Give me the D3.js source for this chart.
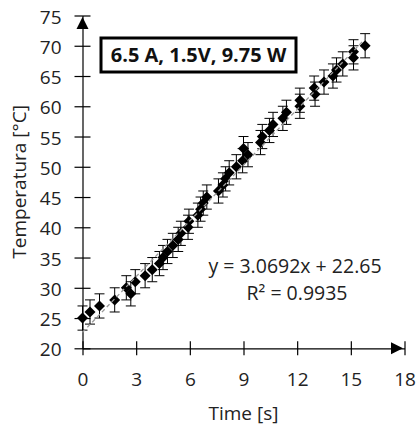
<!DOCTYPE html>
<html>
<head>
<meta charset="utf-8">
<script src="https://cdn.jsdelivr.net/npm/d3@7"></script>
<style>
  body { margin: 0; background: #fff; }
  svg text { font-family: "Open Sans", sans-serif; fill: #222; }
</style>
</head>
<body>
<div id="chart"></div>
<script>
// data: time [s] and temperature [°C]
var times = [0, 0.42, 0.95, 1.8, 2.7, 2.45, 2.95, 3.5, 3.9, 4.3,
             4.5, 4.75, 5.05, 5.35, 5.5, 5.9, 5.95, 6.45, 6.6, 6.75,
             6.95, 7.6, 7.85, 8.0, 8.2, 8.6, 8.95, 9.25, 9.0, 9.95,
             10.05, 10.45, 10.65, 11.2, 11.4, 12.15, 12.15, 13.0, 12.95, 13.5,
             14.0, 14.2, 14.55, 15.15, 15.15, 15.8];
var temps = [25, 26, 27, 28, 29, 30, 31, 32, 33, 34,
             35, 36, 37, 38, 39, 40, 41, 42, 43, 44,
             45, 46, 47, 48, 49, 50, 51, 52, 53, 54,
             55, 56, 57, 58, 59, 60, 61, 62, 63, 64,
             65, 66, 67, 68, 69, 70];
var errBar = 2;
var xTicks = [0, 3, 6, 9, 12, 15, 18];
var yTicks = [20, 25, 30, 35, 40, 45, 50, 55, 60, 65, 70, 75];
var slope = 3.0692, intercept = 22.65;
var eqText = "y = 3.0692x + 22.65";
var r2Text = "R² = 0.9935";
var boxText = "6.5 A, 1.5V, 9.75 W";

var W = 419, H = 430;
var svg = d3.select("#chart").append("svg")
  .attr("width", W).attr("height", H);

var x = d3.scaleLinear().domain([0, 18]).range([82.5, 404.5]);
var y = d3.scaleLinear().domain([20, 75]).range([348.3, 15.5]);

// axes, ticks cross the axis line
var xAxis = svg.append("g")
  .attr("transform", "translate(0," + y(20) + ")")
  .call(d3.axisBottom(x).tickValues(xTicks).tickSize(7).tickSizeOuter(0));
xAxis.selectAll(".tick line").attr("y1", -7).attr("y2", 7);
xAxis.selectAll(".tick text").attr("y", 24).attr("dy", "0.71em")
  .style("font-size", "19px");

var yAxis = svg.append("g")
  .attr("transform", "translate(" + x(0) + ",0)")
  .call(d3.axisLeft(y).tickValues(yTicks).tickSize(8).tickSizeOuter(0));
yAxis.selectAll(".tick line").attr("x1", -8).attr("x2", 8);
yAxis.selectAll(".tick text").attr("x", -21).attr("dy", "0.4em")
  .style("font-size", "19px");

svg.selectAll(".domain").attr("stroke", "#000").attr("stroke-width", 1.2);
svg.selectAll(".tick line").attr("stroke", "#000").attr("stroke-width", 1.2);
svg.selectAll(".tick text").attr("fill", "#222").style("font-family", "'Open Sans', sans-serif");

// arrow heads
var ax = x(0), ay = y(20);
svg.append("path")
  .attr("d", "M" + ax + "," + (y(75) + 1.5) + "L" + (ax - 6) + "," + (y(75) + 13.5) + "L" + (ax + 6) + "," + (y(75) + 13.5) + "Z")
  .attr("fill", "#000");
svg.append("path")
  .attr("d", "M" + (x(18) - 1.5) + "," + ay + "L" + (x(18) - 13.5) + "," + (ay - 6) + "L" + (x(18) - 13.5) + "," + (ay + 6) + "Z")
  .attr("fill", "#000");

// error bars
var pts = times.map(function(t, i) { return {t: t, T: temps[i]}; });
var eb = svg.append("g").attr("stroke", "#000").attr("stroke-width", 1);
pts.forEach(function(d) {
  var cx = x(d.t);
  eb.append("line").attr("x1", cx).attr("x2", cx)
    .attr("y1", y(d.T - errBar)).attr("y2", y(d.T + errBar));
  eb.append("line").attr("x1", cx - 5).attr("x2", cx + 5)
    .attr("y1", y(d.T - errBar)).attr("y2", y(d.T - errBar));
  eb.append("line").attr("x1", cx - 5).attr("x2", cx + 5)
    .attr("y1", y(d.T + errBar)).attr("y2", y(d.T + errBar));
});

// diamonds
svg.append("g").selectAll("path")
  .data(pts).enter().append("path")
  .attr("d", function(d) {
    var cx = x(d.t), cy = y(d.T), r = 5.5;
    return "M" + cx + "," + (cy - r) + "L" + (cx + r) + "," + cy + "L" + cx + "," + (cy + r) + "L" + (cx - r) + "," + cy + "Z";
  })
  .attr("fill", "#000");

// trend line
var tMax = d3.max(times);
svg.append("line")
  .attr("x1", x(0)).attr("y1", y(intercept))
  .attr("x2", x(tMax)).attr("y2", y(slope * tMax + intercept))
  .attr("stroke", "#9a9a9a").attr("stroke-width", 1.3)
  .attr("stroke-dasharray", "4,3");

// equation
svg.append("text").attr("x", 295).attr("y", 273)
  .attr("text-anchor", "middle").style("font-size", "19.5px").text(eqText);
svg.append("text").attr("x", 297).attr("y", 300)
  .attr("text-anchor", "middle").style("font-size", "19.5px").text(r2Text);

// info box
svg.append("rect").attr("x", 101).attr("y", 38).attr("width", 195).attr("height", 34)
  .attr("fill", "#fff").attr("stroke", "#000").attr("stroke-width", 3);
svg.append("text").attr("x", 198.5).attr("y", 62)
  .attr("text-anchor", "middle").style("font-size", "20px").style("font-weight", "bold")
  .style("fill", "#111").text(boxText);

// axis titles
svg.append("text").attr("x", (x(0) + x(18)) / 2).attr("y", 420)
  .attr("text-anchor", "middle").style("font-size", "19px").text("Time [s]");
svg.append("text")
  .attr("transform", "translate(26," + ((y(20) + y(75)) / 2) + ") rotate(-90)")
  .attr("text-anchor", "middle").style("font-size", "19px").text("Temperatura [°C]");
</script>
</body>
</html>
